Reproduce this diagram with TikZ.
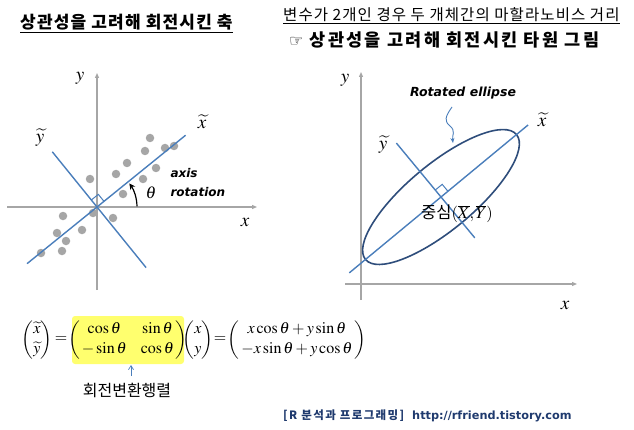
\documentclass[tikz,border=0pt]{standalone}
\usepackage{mathptmx}
\usepackage{fontspec}
\usepackage{amsmath}
\newfontfamily\kr{Noto Sans CJK KR}
\newfontfamily\krw{Noto Sans CJK KR}[LetterSpace=7]
\newfontfamily\krb{Noto Sans CJK KR}[LetterSpace=13]
\newfontfamily\krf{Noto Sans CJK KR}[LetterSpace=12]
\newfontfamily\djv{DejaVu Sans}
\usetikzlibrary{arrows.meta,calc}
\definecolor{axgray}{HTML}{A6A6A6}
\definecolor{lblue}{HTML}{4A7EBB}
\definecolor{eblue}{HTML}{2E4D7B}
\definecolor{ftblue}{HTML}{1F3A6E}
\definecolor{hiyel}{HTML}{FFFF6E}
\tikzset{
  axisline/.style={draw=axgray,line width=1.1pt,-{Triangle[length=5pt,width=4pt]}},
  rotline/.style={draw=lblue,line width=1.4pt},
  dot/.style={circle,fill=axgray,inner sep=0pt,minimum size=8.5pt},
  mlabel/.style={font=\fontsize{19}{20}\selectfont},
  note/.style={font=\djv\bfseries\itshape\fontsize{12}{14}\selectfont},
}
\begin{document}
\begin{tikzpicture}[x=1pt,y=1pt]
\useasboundingbox (0,0) rectangle (634,429);
% titles
\node[font=\krw\bfseries\fontsize{17}{19}\selectfont,anchor=west,inner sep=0pt] (t1) at (20,405) {\underline{상관성을 고려해 회전시킨 축}};
\node[font=\krw\fontsize{15.5}{17}\selectfont,anchor=west,inner sep=0pt] (t2) at (283,413) {\underline{변수가 2개인 경우 두 개체간의 마할라노비스 거리}};
\node[font=\krb\bfseries\fontsize{17.5}{19}\selectfont,anchor=west,inner sep=0pt] (t3) at (289,389) {{\djv\fontsize{16}{16}\selectfont ☞}\ 상관성을 고려해 회전시킨 타원 그림};
% ---------- left panel ----------
\coordinate (O) at (97,222);
\foreach \p [count=\i] in {(150,291),(145,278),(165,281),(174,283),(127,266),(116,255),(156,261),(143,250),(123,235),(90,250),(113,211),(93,216),(63,213),(82,199),(57,196),(66,188),(41,176),(62,178)}
  \node[dot] (d\i) at \p {};
\coordinate (yb) at (97,139); \coordinate (yt) at (97,356);
\coordinate (xl) at (7,222); \coordinate (xr) at (257,222);
\draw[axisline] (yb) -- (yt);
\draw[axisline] (xl) -- (xr);
\node[mlabel] (ly) at (80,351) {$y$};
\node[mlabel] (lx) at (245,207) {$x$};
\coordinate (xt1) at ($(O)+(219:90)$);
\coordinate (xt2) at ($(O)+(39:114)$);
\coordinate (yt1) at ($(O)+(129:71)$);
\coordinate (yt2) at ($(O)+(-51:78)$);
\draw[rotline] (xt1) -- (xt2);
\draw[rotline] (yt1) -- (yt2);
\draw[draw=lblue,line width=1pt] ($(O)+(39:9)$) -- ($(O)+(39:9)+(129:9)$) -- ($(O)+(129:9)$);
\node[mlabel] (lxt) at (202,307) {$\widetilde{x}$};
\node[mlabel] (lyt) at (40,291) {$\widetilde{y}$};
\draw[line width=1.2pt,-{Stealth[length=6pt,width=6pt]}] ($(O)+(1:40)$) arc[start angle=1,end angle=36,radius=40];
\node[font=\fontsize{17}{18}\selectfont] (th) at (151,236) {$\theta$};
\node[note,anchor=west] (ax1) at (167,256) {axis};
\node[note,anchor=west] (ax2) at (167,237) {rotation};
% ---------- right panel ----------
\coordinate (C) at (441,232);
\coordinate (Yb) at (361,129); \coordinate (Yt) at (361,357);
\coordinate (Xl) at (345,145); \coordinate (Xr) at (577,145);
\draw[axisline] (Yb) -- (Yt);
\draw[axisline] (Xl) -- (Xr);
\node[mlabel] (rly) at (345,349) {$y$};
\node[mlabel] (rlx) at (565,124) {$x$};
\draw[draw=eblue,line width=1.6pt,rotate around={39.6:(C)}] (C) ellipse[x radius=98,y radius=33];
\coordinate (Xt1) at ($(C)+(219.6:119)$);
\coordinate (Xt2) at ($(C)+(39.6:113)$);
\coordinate (Yt1) at ($(C)+(129.6:70)$);
\coordinate (Yt2) at ($(C)+(-50.4:53)$);
\draw[rotline] (Xt1) -- (Xt2);
\draw[rotline] (Yt1) -- (Yt2);
\draw[draw=lblue,line width=1pt] ($(C)+(39.6:9)$) -- ($(C)+(39.6:9)+(129.6:9)$) -- ($(C)+(129.6:9)$);
\node[mlabel] (rxt) at (542,309) {$\widetilde{x}$};
\node[mlabel] (ryt) at (383,284) {$\widetilde{y}$};
\node[note,font=\djv\bfseries\itshape\fontsize{12.5}{14}\selectfont] (re) at (463,336) {Rotated ellipse};
\coordinate (wa) at (452,322);
\coordinate (wb) at (453,286);
\draw[draw=lblue,line width=0.9pt,-{Stealth[length=5pt,width=4pt]}] (wa) .. controls (445,312) and (444,308) .. (450,303) .. controls (456,298) and (452,294) .. (wb);
\node[font=\fontsize{16.5}{18}\selectfont] (cen) at (457,215) {{\kr 중심}$(\overline{X},\overline{Y})$};
% ---------- equation ----------
\fill[hiyel,rounded corners=3pt] (72,65) rectangle (184,113);
\begin{scope}[every node/.style={font=\fontsize{16}{18}\selectfont}]
\node (v1) at (37,89) {$\left(\begin{array}{@{}c@{}}\widetilde{x}\\[2pt]\widetilde{y}\end{array}\right)$};
\node (e1) at (61,89) {$=$};
\node (mat) at (128,89) {$\left(\begin{array}{@{\,}c@{\hspace{14pt}}c@{\,}}\cos\theta & \sin\theta\\[2pt] -\sin\theta & \cos\theta\end{array}\right)$};
\node (v2) at (198,89) {$\left(\begin{array}{@{}c@{}}x\\[2pt]y\end{array}\right)$};
\node (e2) at (220,89) {$=$};
\node (res) at (297,89) {$\left(\begin{array}{@{\,}c@{\,}}x\cos\theta+y\sin\theta\\[2pt]-x\sin\theta+y\cos\theta\end{array}\right)$};
\end{scope}
\node[font=\kr\fontsize{16}{18}\selectfont] (rm) at (127,39) {회전변환행렬};
\coordinate (ar1) at (131,53);
\coordinate (ar2) at (131,64);
\draw[draw=lblue,line width=0.7pt,-{Straight Barb[length=4pt,width=5pt]}] (ar1) -- (ar2);
% footer
\node[font=\krf\bfseries\fontsize{11.5}{13}\selectfont,text=ftblue,anchor=west,inner sep=0pt] (f1) at (283,13) {[R 분석과 프로그래밍]};
\node[font=\djv\bfseries\fontsize{11.3}{13}\selectfont,text=ftblue,anchor=west,inner sep=0pt] (f2) at (412,13) {http://rfriend.tistory.com};
\end{tikzpicture}
\end{document}
